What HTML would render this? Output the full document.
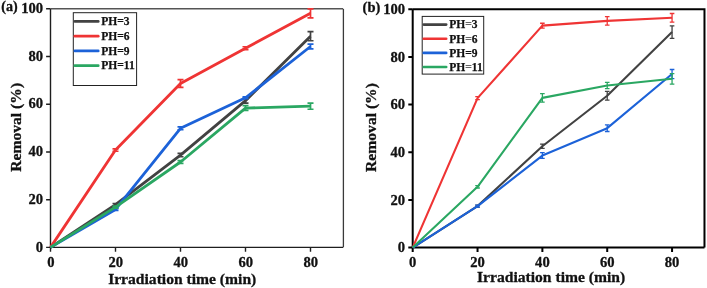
<!DOCTYPE html>
<html><head><meta charset="utf-8"><style>
html,body{margin:0;padding:0;background:#fff;}
svg{display:block;will-change:transform}
.t{font-family:"Liberation Serif",serif;font-weight:bold;font-size:14.6px;fill:#111;stroke:#111;stroke-width:0.3px}
.ti{font-family:"Liberation Serif",serif;font-weight:bold;font-size:15.6px;fill:#111;stroke:#111;stroke-width:0.3px}
.l{font-family:"Liberation Serif",serif;font-weight:bold;font-size:11.5px;fill:#111;stroke:#111;stroke-width:0.25px}
</style></head><body>
<svg width="707" height="288" viewBox="0 0 707 288">
<text x="43.10" y="251.50" text-anchor="end" class="t">0</text>
<text x="43.10" y="203.78" text-anchor="end" class="t">20</text>
<text x="43.10" y="156.06" text-anchor="end" class="t">40</text>
<text x="43.10" y="108.34" text-anchor="end" class="t">60</text>
<text x="43.10" y="60.62" text-anchor="end" class="t">80</text>
<text x="43.10" y="12.90" text-anchor="end" class="t">100</text>
<text x="50.80" y="266.80" text-anchor="middle" class="t">0</text>
<text x="115.80" y="266.80" text-anchor="middle" class="t">20</text>
<text x="180.80" y="266.80" text-anchor="middle" class="t">40</text>
<text x="245.80" y="266.80" text-anchor="middle" class="t">60</text>
<text x="310.80" y="266.80" text-anchor="middle" class="t">80</text>
<path d="M46.10,247.40H50.5 M46.10,199.68H50.5 M46.10,151.96H50.5 M46.10,104.24H50.5 M46.10,56.52H50.5 M46.10,8.80H50.5 M50.50,247.4V251.80 M115.50,247.4V251.80 M180.50,247.4V251.80 M245.50,247.4V251.80 M310.50,247.4V251.80" stroke="#1e1e1e" stroke-width="1.4" fill="none"/>
<path d="M50.5,8.80H343.00" stroke="#555" stroke-width="1.4" fill="none"/>
<path d="M343.4,8.80V247.4" stroke="#3a3a3a" stroke-width="1.3" fill="none"/>
<path d="M50.5,8.80V247.4H343.00" stroke="#1e1e1e" stroke-width="1.4" fill="none"/>
<text x="182.2" y="283.7" text-anchor="middle" class="ti">Irradiation time (min)</text>
<text transform="translate(21.0,127.3) rotate(-90)" text-anchor="middle" class="ti">Removal (%)</text>
<text x="1.3" y="11.3" class="t" style="font-size:14px">(a)</text>
<rect x="73.3" y="12.7" width="63.3" height="72.8" fill="none" stroke="#222" stroke-width="1"/>
<path d="M74.8,21.40h23.5" stroke="#424242" stroke-width="2.6" stroke-linecap="round"/>
<text x="101.3" y="25.20" class="l">PH=3</text>
<path d="M74.8,36.15h23.5" stroke="#ef3434" stroke-width="2.6" stroke-linecap="round"/>
<text x="101.3" y="39.95" class="l">PH=6</text>
<path d="M74.8,50.90h23.5" stroke="#1c62d8" stroke-width="2.6" stroke-linecap="round"/>
<text x="101.3" y="54.70" class="l">PH=9</text>
<path d="M74.8,65.65h23.5" stroke="#2aa762" stroke-width="2.6" stroke-linecap="round"/>
<text x="101.3" y="69.45" class="l">PH=11</text>
<polyline points="50.50,247.40 115.50,204.69 180.50,155.06 245.50,100.66 310.50,36.24" fill="none" stroke="#424242" stroke-width="2.8" stroke-linejoin="round"/>
<path d="M115.50,203.50V205.88M112.50,203.50h6M112.50,205.88h6 M180.50,153.39V156.73M177.50,153.39h6M177.50,156.73h6 M245.50,98.28V103.05M242.50,98.28h6M242.50,103.05h6 M310.50,31.71V40.77M307.50,31.71h6M307.50,40.77h6" fill="none" stroke="#424242" stroke-width="1.7"/>
<polyline points="50.50,247.40 115.50,150.05 180.50,83.48 245.50,48.17 310.50,13.33" fill="none" stroke="#ef3434" stroke-width="2.8" stroke-linejoin="round"/>
<path d="M115.50,148.86V151.24M112.50,148.86h6M112.50,151.24h6 M180.50,79.66V87.30M177.50,79.66h6M177.50,87.30h6 M245.50,46.74V49.60M242.50,46.74h6M242.50,49.60h6 M310.50,8.80V17.87M307.50,8.80h6M307.50,17.87h6" fill="none" stroke="#ef3434" stroke-width="1.7"/>
<polyline points="50.50,247.40 115.50,209.46 180.50,128.34 245.50,97.80 310.50,46.50" fill="none" stroke="#1c62d8" stroke-width="2.8" stroke-linejoin="round"/>
<path d="M115.50,208.51V210.42M112.50,208.51h6M112.50,210.42h6 M180.50,126.91V129.77M177.50,126.91h6M177.50,129.77h6 M245.50,96.84V98.75M242.50,96.84h6M242.50,98.75h6 M310.50,44.11V48.88M307.50,44.11h6M307.50,48.88h6" fill="none" stroke="#1c62d8" stroke-width="1.7"/>
<polyline points="50.50,247.40 115.50,207.08 180.50,161.98 245.50,108.06 310.50,106.15" fill="none" stroke="#2aa762" stroke-width="2.8" stroke-linejoin="round"/>
<path d="M115.50,206.12V208.03M112.50,206.12h6M112.50,208.03h6 M180.50,160.55V163.41M177.50,160.55h6M177.50,163.41h6 M245.50,105.67V110.44M242.50,105.67h6M242.50,110.44h6 M310.50,103.05V109.25M307.50,103.05h6M307.50,109.25h6" fill="none" stroke="#2aa762" stroke-width="1.7"/>
<text x="405.10" y="252.40" text-anchor="end" class="t">0</text>
<text x="405.10" y="204.72" text-anchor="end" class="t">20</text>
<text x="405.10" y="157.04" text-anchor="end" class="t">40</text>
<text x="405.10" y="109.36" text-anchor="end" class="t">60</text>
<text x="405.10" y="61.68" text-anchor="end" class="t">80</text>
<text x="405.10" y="14.00" text-anchor="end" class="t">100</text>
<text x="412.70" y="267.00" text-anchor="middle" class="t">0</text>
<text x="477.54" y="267.00" text-anchor="middle" class="t">20</text>
<text x="542.38" y="267.00" text-anchor="middle" class="t">40</text>
<text x="607.22" y="267.00" text-anchor="middle" class="t">60</text>
<text x="672.06" y="267.00" text-anchor="middle" class="t">80</text>
<path d="M408.30,247.60H412.7 M408.30,199.92H412.7 M408.30,152.24H412.7 M408.30,104.56H412.7 M408.30,56.88H412.7 M408.30,9.20H412.7 M412.70,247.6V252.00 M477.54,247.6V252.00 M542.38,247.6V252.00 M607.22,247.6V252.00 M672.06,247.6V252.00" stroke="#000" stroke-width="2.0" fill="none"/>
<path d="M412.7,9.20H704.48V247.6" stroke="#000" stroke-width="2.0" fill="none"/>
<path d="M412.7,9.20V247.6H704.48" stroke="#000" stroke-width="2.0" fill="none"/>
<text x="551.1" y="281.8" text-anchor="middle" class="ti">Irradiation time (min)</text>
<text transform="translate(376.4,127.5) rotate(-90)" text-anchor="middle" class="ti">Removal (%)</text>
<text x="362.6" y="11.9" class="t" style="font-size:14.5px">(b)</text>
<rect x="422.2" y="16.4" width="61.5" height="57.7" fill="none" stroke="#222" stroke-width="1"/>
<path d="M423.7,24.60h22.5" stroke="#424242" stroke-width="2.6" stroke-linecap="round"/>
<text x="449.3" y="28.40" class="l">PH<tspan style="fill:#666;stroke:#666">=</tspan>3</text>
<path d="M423.7,38.75h22.5" stroke="#ef3434" stroke-width="2.6" stroke-linecap="round"/>
<text x="449.3" y="42.55" class="l">PH<tspan style="fill:#666;stroke:#666">=</tspan>6</text>
<path d="M423.7,52.90h22.5" stroke="#1c62d8" stroke-width="2.6" stroke-linecap="round"/>
<text x="449.3" y="56.70" class="l">PH=9</text>
<path d="M423.7,67.05h22.5" stroke="#2aa762" stroke-width="2.6" stroke-linecap="round"/>
<text x="449.3" y="70.85" class="l">PH<tspan style="fill:#666;stroke:#666">=</tspan>11</text>
<polyline points="412.70,247.60 477.54,206.12 542.38,146.28 607.22,95.74 672.06,32.09" fill="none" stroke="#424242" stroke-width="2.1" stroke-linejoin="round"/>
<path d="M477.54,205.16V207.07M475.24,205.16h4.6M475.24,207.07h4.6 M542.38,144.13V148.43M540.08,144.13h4.6M540.08,148.43h4.6 M607.22,91.45V100.03M604.92,91.45h4.6M604.92,100.03h4.6 M672.06,25.89V38.28M669.76,25.89h4.6M669.76,38.28h4.6" fill="none" stroke="#424242" stroke-width="1.3"/>
<polyline points="412.70,247.60 477.54,98.12 542.38,25.65 607.22,20.88 672.06,17.78" fill="none" stroke="#ef3434" stroke-width="2.1" stroke-linejoin="round"/>
<path d="M477.54,96.69V99.55M475.24,96.69h4.6M475.24,99.55h4.6 M542.38,23.27V28.03M540.08,23.27h4.6M540.08,28.03h4.6 M607.22,16.59V25.17M604.92,16.59h4.6M604.92,25.17h4.6 M672.06,13.49V22.07M669.76,13.49h4.6M669.76,22.07h4.6" fill="none" stroke="#ef3434" stroke-width="1.3"/>
<polyline points="412.70,247.60 477.54,206.12 542.38,155.58 607.22,128.16 672.06,74.04" fill="none" stroke="#1c62d8" stroke-width="2.1" stroke-linejoin="round"/>
<path d="M477.54,205.16V207.07M475.24,205.16h4.6M475.24,207.07h4.6 M542.38,152.72V158.44M540.08,152.72h4.6M540.08,158.44h4.6 M607.22,124.82V131.50M604.92,124.82h4.6M604.92,131.50h4.6 M672.06,69.52V78.57M669.76,69.52h4.6M669.76,78.57h4.6" fill="none" stroke="#1c62d8" stroke-width="1.3"/>
<polyline points="412.70,247.60 477.54,186.81 542.38,97.88 607.22,85.49 672.06,78.81" fill="none" stroke="#2aa762" stroke-width="2.1" stroke-linejoin="round"/>
<path d="M477.54,185.62V188.00M475.24,185.62h4.6M475.24,188.00h4.6 M542.38,93.59V102.18M540.08,93.59h4.6M540.08,102.18h4.6 M607.22,82.39V88.59M604.92,82.39h4.6M604.92,88.59h4.6 M672.06,73.57V84.06M669.76,73.57h4.6M669.76,84.06h4.6" fill="none" stroke="#2aa762" stroke-width="1.3"/>
</svg>
</body></html>
